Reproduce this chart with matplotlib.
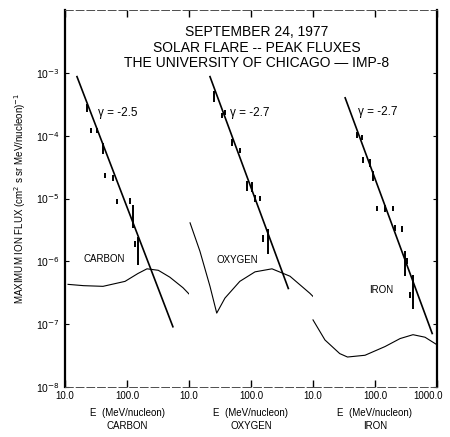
import numpy as np
import matplotlib
matplotlib.use('Agg')
import matplotlib.pyplot as plt
import matplotlib.transforms as mtransforms
from matplotlib.ticker import FixedLocator, FixedFormatter, NullLocator

plt.rcParams['font.family'] = ['Liberation Sans Narrow', 'Liberation Sans', 'DejaVu Sans']

# --- data ---
species = ['CARBON', 'OXYGEN', 'IRON']
gamma_labels = ['γ = -2.5', 'γ = -2.7', 'γ = -2.7']

# peak flux points (E in MeV/nucleon, flux) and half length of error bar in dex
carbon_E = [22.7, 26.2, 32.8, 41, 44, 59, 69, 112, 125, 135, 150]
carbon_F = [2.75e-4, 1.23e-4, 1.23e-4, 6.3e-5, 2.3e-5, 2.1e-5, 9.1e-6, 9.1e-6, 5.2e-6, 1.9e-6, 1.45e-6]
carbon_err = [0.06, 0.04, 0.04, 0.09, 0.04, 0.05, 0.04, 0.05, 0.18, 0.05, 0.22]

oxygen_E = [25.3, 34, 38, 49, 67, 86, 104, 116, 140, 156, 188]
oxygen_F = [4.2e-4, 2.1e-4, 2.3e-4, 7.8e-5, 5.9e-5, 1.6e-5, 1.5e-5, 1.0e-5, 1.0e-5, 2.3e-6, 2.1e-6]
oxygen_err = [0.08, 0.04, 0.04, 0.06, 0.04, 0.08, 0.08, 0.05, 0.04, 0.05, 0.2]

iron_E = [51, 62, 64, 83, 93, 107, 145, 195, 210, 272, 305, 325, 367, 410]
iron_F = [1.02e-4, 9.3e-5, 4.1e-5, 3.7e-5, 2.3e-5, 6.9e-6, 6.9e-6, 6.9e-6, 3.4e-6, 3.3e-6, 9.3e-7, 1.0e-6, 2.95e-7, 3.3e-7]
iron_err = [0.05, 0.04, 0.04, 0.06, 0.08, 0.04, 0.06, 0.04, 0.05, 0.05, 0.2, 0.05, 0.05, 0.27]

# power law fit lines (end points)
carbon_fit_E = [15.6, 550]
carbon_fit_F = [8.7e-4, 9.1e-8]
oxygen_fit_E = [21.8, 400]
oxygen_fit_F = [8.7e-4, 3.7e-7]
iron_fit_E = [33, 837]
iron_fit_F = [4.0e-4, 7.1e-8]

# instrument sensitivity curves
carbon_curve_E = [11.2, 20, 41, 93, 150, 210, 320, 490, 800, 1160, 1500]
carbon_curve_F = [4.3e-7, 4.1e-7, 4.0e-7, 4.8e-7, 6.4e-7, 7.6e-7, 7.2e-7, 5.6e-7, 3.8e-7, 2.6e-7, 1.7e-7]
oxygen_curve_E = [10.4, 15, 21.8, 28, 38, 66, 116, 218, 425, 890, 1550]
oxygen_curve_F = [4.1e-6, 1.45e-6, 4.0e-7, 1.5e-7, 2.6e-7, 4.8e-7, 6.8e-7, 7.6e-7, 5.8e-7, 3.1e-7, 1.8e-7]
iron_curve_E = [10, 15.6, 27, 36, 69, 145, 254, 410, 640, 1000]
iron_curve_F = [1.17e-7, 5.6e-8, 3.4e-8, 3.0e-8, 3.2e-8, 4.4e-8, 5.9e-8, 6.8e-8, 6.2e-8, 4.7e-8]

y_ticks = [1e-8, 1e-7, 1e-6, 1e-5, 1e-4, 1e-3]
y_ticklabels = ['10$^{-8}$', '10$^{-7}$', '10$^{-6}$', '10$^{-5}$', '10$^{-4}$', '10$^{-3}$']

# label positions (E, F) inside each panel
species_pos = [(42.6, 1.1e-6), (59.5, 1.05e-6), (125, 3.5e-7)]
gamma_pos = [(34, 2.3e-4), (46, 2.3e-4), (53, 2.4e-4)]

panels = [
    (carbon_E, carbon_F, carbon_err, carbon_fit_E, carbon_fit_F, carbon_curve_E, carbon_curve_F),
    (oxygen_E, oxygen_F, oxygen_err, oxygen_fit_E, oxygen_fit_F, oxygen_curve_E, oxygen_curve_F),
    (iron_E, iron_F, iron_err, iron_fit_E, iron_fit_F, iron_curve_E, iron_curve_F),
]

fig = plt.figure(figsize=(4.5, 4.37), dpi=100)
left, right = 65 / 450, 437 / 450
bottom, top = 1 - 387 / 437, 1 - 10 / 437
w = (right - left) / 3

axes = []
for i, (E, F, err, fE, fF, cE, cF) in enumerate(panels):
    ax = fig.add_axes([left + i * w, bottom, w, top - bottom])
    axes.append(ax)
    ax.set_xscale('log'); ax.set_yscale('log')
    ax.set_xlim(10, 1000); ax.set_ylim(1e-8, 1e-2)

    E = np.array(E); F = np.array(F); err = np.array(err)
    yerr = [F - F * 10 ** -err, F * 10 ** err - F]
    ax.errorbar(E, F, yerr=yerr, fmt='none', ecolor='k', elinewidth=1.4, capsize=0)
    ax.plot(fE, fF, color='k', lw=1.2)
    ax.plot(cE, cF, color='k', lw=0.8, clip_on=False)

    ax.text(*species_pos[i], species[i], fontsize=7, ha='center', va='center')
    ax.text(*gamma_pos[i], gamma_labels[i], fontsize=8.5, ha='left', va='center')

    # spines
    for s in ['top', 'bottom']:
        ax.spines[s].set_linewidth(0.7)
        ax.spines[s].set_color('0.3')
        ax.spines[s].set_linestyle((0, (8, 3)))
    ax.spines['left'].set_visible(i == 0)
    ax.spines['right'].set_visible(i == 2)
    ax.spines['left'].set_linewidth(1.6)
    ax.spines['right'].set_linewidth(1.6)

    # x ticks
    if i < 2:
        xt = [10, 100]; xl = ['10.0', '100.0']
    else:
        xt = [10, 100, 1000]; xl = ['10.0', '100.0', '1000.0']
    ax.xaxis.set_major_locator(FixedLocator(xt))
    ax.xaxis.set_major_formatter(FixedFormatter(xl))
    ax.xaxis.set_minor_locator(NullLocator())
    ax.tick_params(axis='x', which='major', direction='in', length=5, width=1.0,
                   top=True, bottom=True, labelsize=7, pad=3)

    ax.yaxis.set_major_locator(FixedLocator(y_ticks))
    ax.yaxis.set_major_formatter(FixedFormatter(y_ticklabels))
    ax.yaxis.set_minor_locator(NullLocator())
    ax.tick_params(axis='y', which='major', direction='in', length=3, width=0.8,
                   left=(i == 0), right=(i == 2), labelleft=(i == 0), labelsize=7.5)

    fig.text(left + (i + 0.5) * w, 0.054, 'E  (MeV/nucleon)', fontsize=7, ha='center', va='center')
    fig.text(left + (i + 0.5) * w, 0.026, species[i], fontsize=7, ha='center', va='center')

# keep the last energy label inside the picture
last = axes[2].get_xticklabels()[-1]
last.set_horizontalalignment('right')
last.set_transform(last.get_transform() + mtransforms.ScaledTranslation(6 / 100, 0, fig.dpi_scale_trans))

axes[0].set_ylabel('MAXIMUM ION FLUX (cm$^2$ s sr MeV/nucleon)$^{-1}$', fontsize=7, labelpad=6)

tx = 257 / 450
fig.text(tx, 1 - 32 / 437, 'SEPTEMBER 24, 1977', fontsize=10, ha='center', va='center')
fig.text(tx, 1 - 48 / 437, 'SOLAR FLARE -- PEAK FLUXES', fontsize=10, ha='center', va='center')
fig.text(tx, 1 - 63 / 437, 'THE UNIVERSITY OF CHICAGO — IMP-8', fontsize=10, ha='center', va='center')

fig.savefig('out.png', dpi=100)
